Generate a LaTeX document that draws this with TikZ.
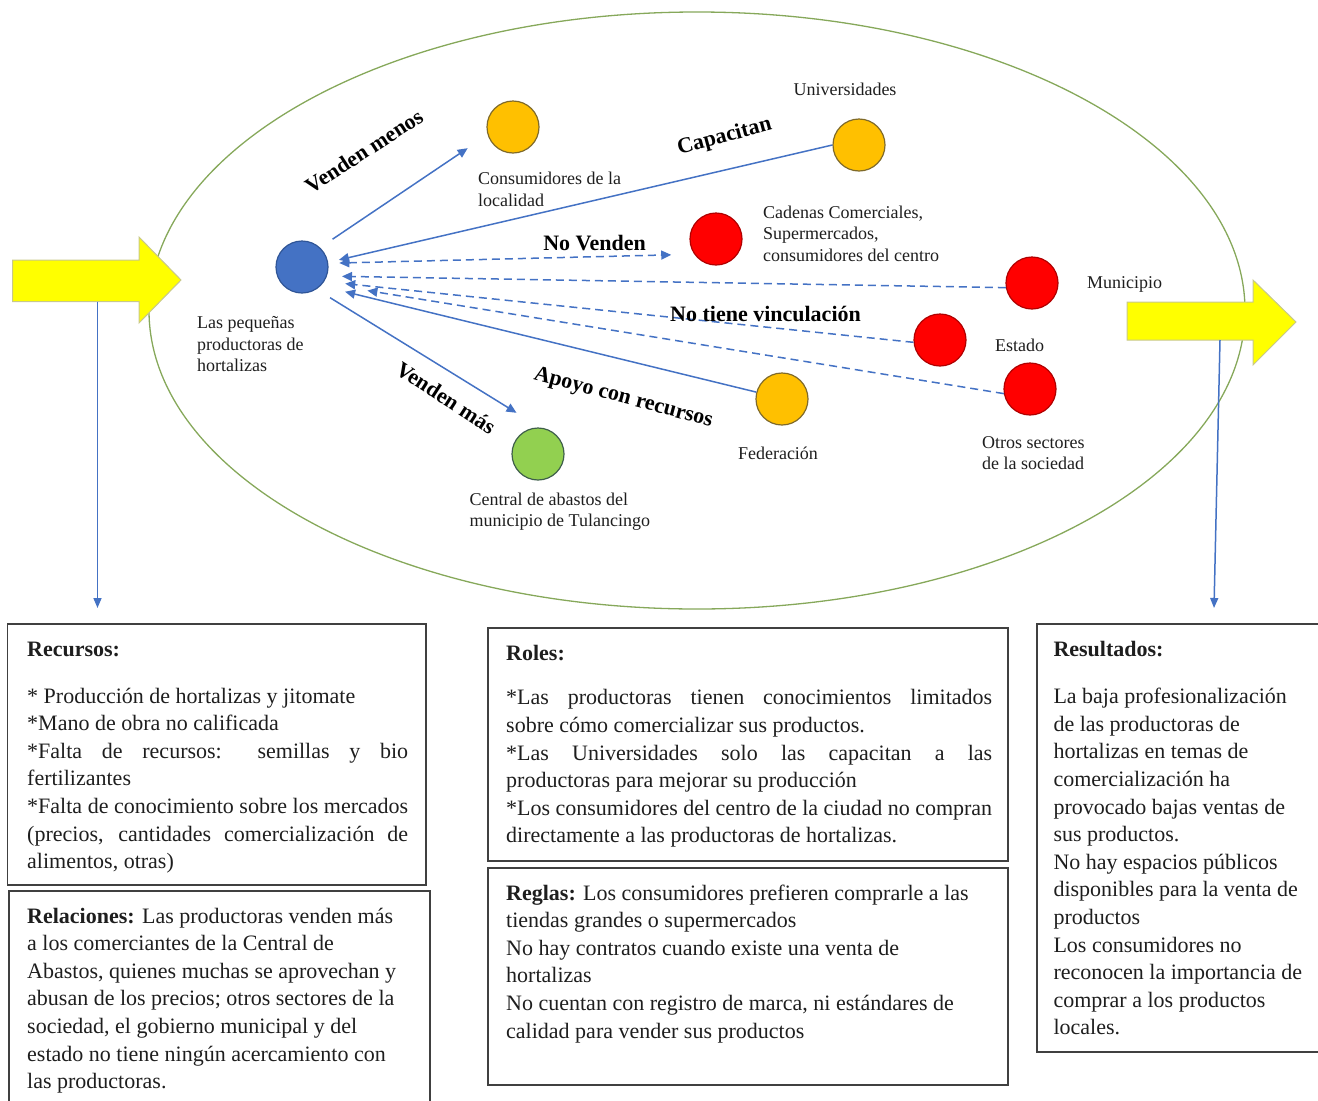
\documentclass[tikz,border=0pt]{standalone}
\usepackage{fontspec}
\setmainfont{Liberation Serif}
\usetikzlibrary{arrows.meta}
\definecolor{lblue}{HTML}{4472C4}
\definecolor{cblue}{HTML}{4472C4}
\definecolor{cblueb}{HTML}{2F5597}
\definecolor{corange}{HTML}{FFC000}
\definecolor{coranget}{HTML}{7F6A2A}
\definecolor{cred}{HTML}{FF0000}
\definecolor{credb}{HTML}{B00000}
\definecolor{cgreen}{HTML}{92D050}
\definecolor{cgreenb}{HTML}{3E5F4A}
\definecolor{ellc}{HTML}{86A85A}
\definecolor{yel}{HTML}{FFFF00}
\definecolor{yelb}{HTML}{C8C88C}
\definecolor{boxc}{HTML}{404040}
\definecolor{txt}{HTML}{1E1E1E}
\begin{document}
\begin{tikzpicture}[x=1pt,y=-1pt,
  circ/.style={circle, minimum size=52pt, inner sep=0pt, line width=1.2pt},
  lbl/.style={font=\fontsize{18}{21.5}\selectfont, text=txt, inner sep=0pt, anchor=base west},
  elbl/.style={font=\fontsize{22}{26}\selectfont\bfseries, text=black, inner sep=0pt, anchor=base},
  conn/.style={draw=lblue, line width=1.5pt},
  tipend/.style={-{Triangle[length=10pt,width=9pt]}},
  dsh/.style={dash pattern=on 8pt off 5pt},
  boxframe/.style={draw=boxc, line width=1.8pt},
  boxtxt/.style={font=\fontsize{22}{27.6}\selectfont, text=txt, inner sep=0pt, anchor=base west},
  yarrow/.style={fill=yel, draw=yelb, line width=1pt},
]
\useasboundingbox (0,0) rectangle (1318,1101);

% big ellipse
\draw[draw=ellc, line width=1.3pt] (697,310.5) ellipse [x radius=548, y radius=298.5];

% yellow arrows
\draw[yarrow] (12.6,260) -- (139,260) -- (139,237) -- (181,280) -- (139,323) -- (139,301.7) -- (12.6,301.7) -- cycle;
\draw[yarrow] (1127,302) -- (1253,302) -- (1253,280) -- (1296,322) -- (1253,365) -- (1253,340) -- (1127,340) -- cycle;

\coordinate (lup) at (97.5,301.7);
\coordinate (ldn) at (97.5,608);
\coordinate (rup) at (1220,340);
\coordinate (rdn) at (1214,608);
\draw[conn, -{Triangle[length=10pt,width=8pt]}] (lup) -- (ldn);
\draw[conn, -{Triangle[length=10pt,width=8pt]}] (rup) -- (rdn);

% circles
\node[circ, fill=cblue, draw=cblueb] (blue) at (302,267) {};
\node[circ, fill=corange, draw=coranget] (cons) at (513,127) {};
\node[circ, fill=corange, draw=coranget] (univ) at (859,145) {};
\node[circ, fill=cred, draw=credb] (cad) at (716,239) {};
\node[circ, fill=cred, draw=credb] (mun) at (1032,283) {};
\node[circ, fill=cred, draw=credb] (est) at (940,340) {};
\node[circ, fill=cred, draw=credb] (otros) at (1030,389) {};
\node[circ, fill=corange, draw=coranget] (fed) at (782,399) {};
\node[circ, fill=cgreen, draw=cgreenb] (cen) at (538,454) {};

% circle labels
\node[lbl] (lprod) at (197,328.5) {\begin{tabular}[t]{@{}l@{}}Las pequeñas\\productoras de\\hortalizas\end{tabular}};
\node[lbl] (lcons) at (478,184.5) {\begin{tabular}[t]{@{}l@{}}Consumidores de la\\localidad\end{tabular}};
\node[lbl, anchor=base] (luniv) at (845,95) {Universidades};
\node[lbl] (lcad) at (763,218.3) {\begin{tabular}[t]{@{}l@{}}Cadenas Comerciales,\\Supermercados,\\consumidores del centro\end{tabular}};
\node[lbl] (lmun) at (1087,288.3) {Municipio};
\node[lbl] (lest) at (995,351.7) {Estado};
\node[lbl] (lotros) at (982,448.3) {\begin{tabular}[t]{@{}l@{}}Otros sectores\\de la sociedad\end{tabular}};
\node[lbl, anchor=base] (lfed) at (778,459.3) {Federación};
\node[lbl] (lcen) at (469.5,505) {\begin{tabular}[t]{@{}l@{}}Central de abastos del\\municipio de Tulancingo\end{tabular}};

% connectors
\draw[conn, tipend, shorten <=15pt, shorten >=24pt] (blue.47) -- (cons.197);
\draw[conn, tipend, shorten >=11pt] (univ.west) -- (blue.10);
\draw[conn, dsh, {Triangle[length=10pt,width=9pt]}-{Triangle[length=10pt,width=9pt]}, shorten <=11pt, shorten >=23pt] (blue.8) -- (cad.215);
\draw[conn, dsh, tipend, shorten >=15pt] (mun.190) -- (blue.-20);
\draw[conn, dsh, tipend, shorten >=21pt] (est.185) -- (blue.-33);
\draw[conn, dsh, tipend, shorten >=45pt] (otros.190) -- (blue.-38);
\draw[conn, tipend, shorten >=25pt] (fed.165) -- (blue.-45);
\draw[conn, tipend, shorten <=16pt, shorten >=28pt] (blue.-57) -- (cen.85);

% edge labels
\node[elbl, rotate=33] (evm) at (368,157.5) {Venden menos};
\node[elbl, rotate=15] (ecap) at (726,142) {Capacitan};
\node[elbl] (env) at (594.5,250) {No Venden};
\node[elbl] (env2) at (765.5,321.5) {No tiene vinculación};
\node[elbl, rotate=-15] (eapo) at (622,403) {Apoyo con recursos};
\node[elbl, rotate=-33] (evmas) at (442,404) {Venden más};

% boxes
\draw[boxframe] (7.5,624) rectangle (426,885);
\draw[boxframe] (9.3,1101) -- (9.3,891) -- (430,891) -- (430,1101);
\draw[boxframe] (488,628) rectangle (1008,861);
\draw[boxframe] (488,868) rectangle (1008,1085);
\draw[boxframe] (1318,624) -- (1037,624) -- (1037,1052) -- (1318,1052);

\node[boxtxt] (trec) at (27,656) {\parbox[t]{381pt}{\textbf{Recursos:}\\[19.4pt]
* Producción de hortalizas y jitomate\\
{}*Mano de obra no calificada\\
\makebox[\linewidth][s]{*Falta de recursos: semillas y bio}\\
fertilizantes\\
\makebox[\linewidth][s]{*Falta de conocimiento sobre los mercados}\\
\makebox[\linewidth][s]{(precios, cantidades comercialización de}\\
alimentos, otras)}};

\node[boxtxt] (trel) at (27,923) {\parbox[t]{420pt}{\textbf{Relaciones:} Las productoras venden más\\
a los comerciantes de la Central de\\
Abastos, quienes muchas se aprovechan y\\
abusan de los precios; otros sectores de la\\
sociedad, el gobierno municipal y del\\
estado no tiene ningún acercamiento con\\
las productoras.}};

\node[boxtxt] (trol) at (506,660) {\parbox[t]{486pt}{\textbf{Roles:}\\[17.3pt]
\makebox[\linewidth][s]{*Las productoras tienen conocimientos limitados}\\
sobre cómo comercializar sus productos.\\
\makebox[\linewidth][s]{*Las Universidades solo las capacitan a las}\\
productoras para mejorar su producción\\
\makebox[\linewidth][s]{*Los consumidores del centro de la ciudad no compran}\\
directamente a las productoras de hortalizas.}};

\node[boxtxt] (treg) at (506,900) {\parbox[t]{495pt}{\textbf{Reglas:} Los consumidores prefieren comprarle a las\\
tiendas grandes o supermercados\\
No hay contratos cuando existe una venta de\\
hortalizas\\
No cuentan con registro de marca, ni estándares de\\
calidad para vender sus productos}};

\node[boxtxt] (tres) at (1053.3,656.7) {\parbox[t]{262pt}{\textbf{Resultados:}\\[19.4pt]
La baja profesionalización\\
de las productoras de\\
hortalizas en temas de\\
comercialización ha\\
provocado bajas ventas de\\
sus productos.\\
No hay espacios públicos\\
disponibles para la venta de\\
productos\\
Los consumidores no\\
reconocen la importancia de\\
comprar a los productos\\
locales.}};
\end{tikzpicture}
\end{document}
